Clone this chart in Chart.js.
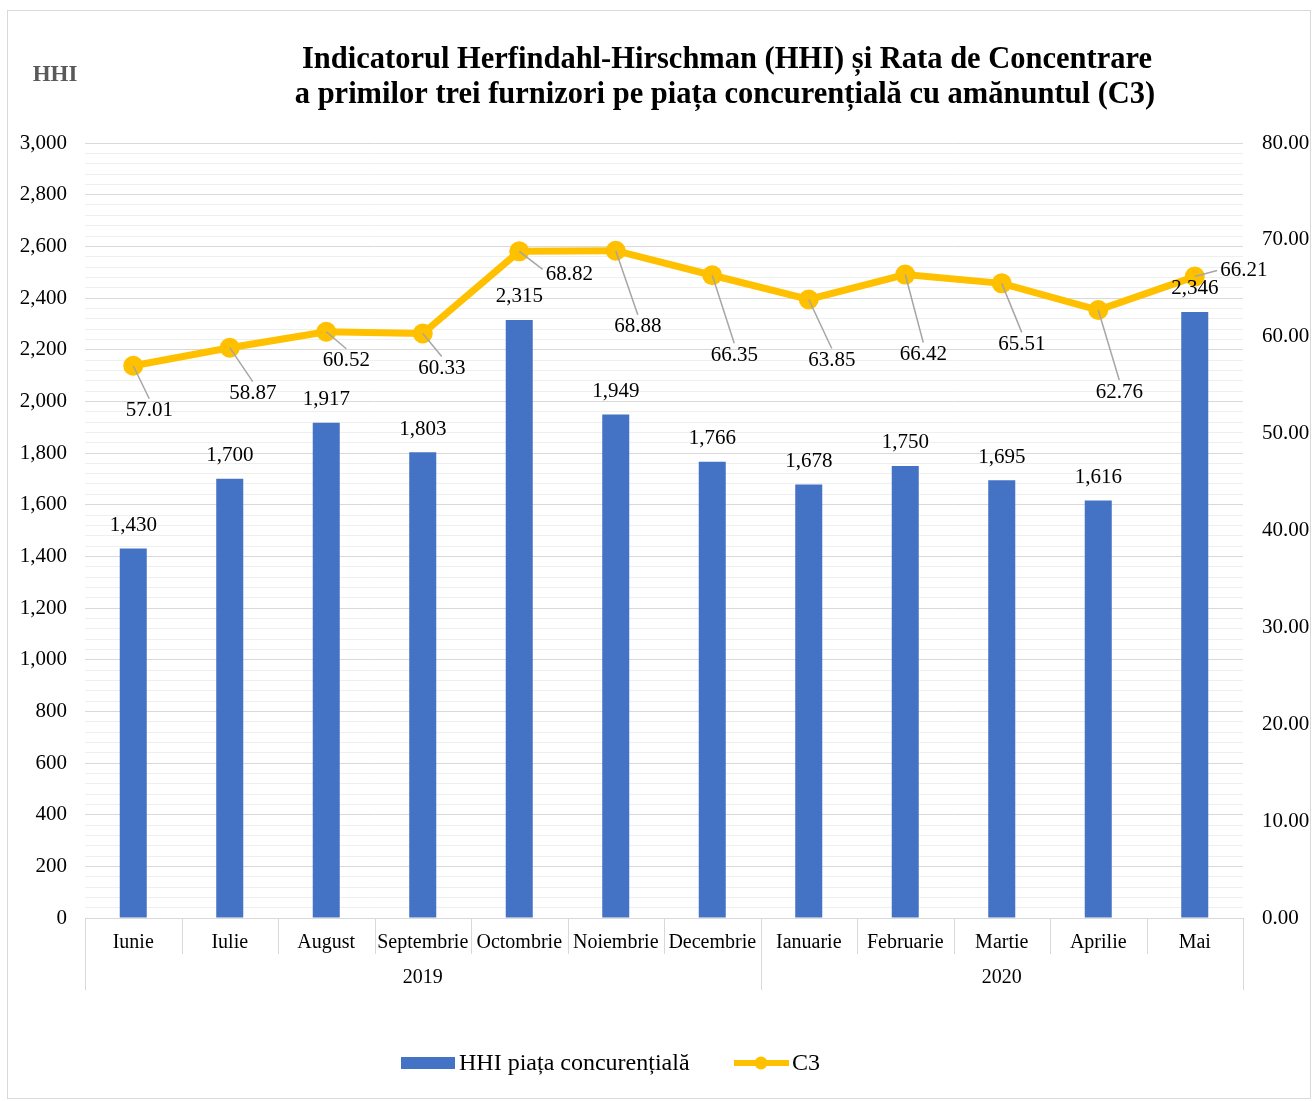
<!DOCTYPE html>
<html>
<head>
<meta charset="utf-8">
<script src="https://cdn.jsdelivr.net/npm/chart.js@4"></script>
<style>
  body { margin: 0; background: #fff; }
  #wrap { width: 1313px; height: 1101px; position: relative; }
</style>
</head>
<body>
<div id="wrap"><canvas id="chart"></canvas></div>
<script>
// Data
const months = ['Iunie', 'Iulie', 'August', 'Septembrie', 'Octombrie', 'Noiembrie', 'Decembrie',
                'Ianuarie', 'Februarie', 'Martie', 'Aprilie', 'Mai'];
const years = ['2019', '2020'];
const monthsPerYear = [7, 5];
const hhi = [1430, 1700, 1917, 1803, 2315, 1949, 1766, 1678, 1750, 1695, 1616, 2346];
const c3 = [57.01, 58.87, 60.52, 60.33, 68.82, 68.88, 66.35, 63.85, 66.42, 65.51, 62.76, 66.21];

// label placement for the C3 values (offset from point, px)
const c3LabelOffset = [[16, 45], [23, 46], [20, 29], [19, 35], [50, 23], [22, 76],
                       [22, 80], [23, 61], [18, 80], [20, 61], [21, 82], [49, -6]];

const SERIF = '"Liberation Serif", "Times New Roman", serif';
const BLUE = '#4472C4';
const GOLD = '#FFC000';

const decor = {
    id: 'decor',
    beforeDraw(chart) {
        const c = chart.ctx;
        c.save();
        c.fillStyle = '#fff';
        c.fillRect(0, 0, chart.width, chart.height);
        c.strokeStyle = '#d9d9d9';
        c.lineWidth = 1;
        c.strokeRect(7.5, 10.5, 1303, 1088);
        c.restore();
    },
    afterDraw(chart) {
        const c = chart.ctx;
        const area = chart.chartArea;
        c.save();
        // titles
        c.fillStyle = '#000';
        c.textAlign = 'center';
        c.textBaseline = 'middle';
        c.font = 'bold 30.5px ' + SERIF;
        c.fillText('Indicatorul Herfindahl-Hirschman (HHI) și Rata de Concentrare', 727, 60);
        c.fillText('a primilor trei furnizori pe piața concurențială cu amănuntul (C3)', 725, 95);
        c.fillStyle = '#595959';
        c.font = 'bold 23px ' + SERIF;
        c.fillText('HHI', 55, 75);

        // category separators and year row
        const w = (area.right - area.left) / months.length;
        c.strokeStyle = '#d9d9d9';
        c.lineWidth = 1;
        c.beginPath();
        for (let i = 0; i <= months.length; i++) {
            const px = Math.round(area.left + i * w) + 0.5;
            c.moveTo(px, area.bottom);
            c.lineTo(px, area.bottom + 36);
        }
        let idx = 0;
        const bounds = [0];
        monthsPerYear.forEach(n => { idx += n; bounds.push(idx); });
        bounds.forEach(b => {
            const px = Math.round(area.left + b * w) + 0.5;
            c.moveTo(px, area.bottom);
            c.lineTo(px, area.bottom + 72);
        });
        c.stroke();
        c.fillStyle = '#000';
        c.font = '20px ' + SERIF;
        years.forEach((y, i) => {
            const mid = area.left + (bounds[i] + bounds[i + 1]) / 2 * w;
            c.fillText(y, mid, area.bottom + 60);
        });

        // legend
        c.fillStyle = BLUE;
        c.fillRect(401, 1057, 54, 12);
        c.fillStyle = '#000';
        c.textAlign = 'left';
        c.font = '24px ' + SERIF;
        c.fillText('HHI piața concurențială', 459, 1064);
        c.strokeStyle = GOLD;
        c.lineWidth = 6;
        c.beginPath();
        c.moveTo(734, 1063);
        c.lineTo(789, 1063);
        c.stroke();
        c.fillStyle = GOLD;
        c.beginPath();
        c.arc(761, 1063, 6.5, 0, Math.PI * 2);
        c.fill();
        c.fillStyle = '#000';
        c.fillText('C3', 792, 1064);
        c.restore();
    },
    afterDatasetsDraw(chart) {
        const c = chart.ctx;
        c.save();
        c.font = '21px ' + SERIF;
        c.fillStyle = '#000';
        c.textAlign = 'center';
        c.textBaseline = 'middle';
        // bar labels
        chart.getDatasetMeta(1).data.forEach((bar, i) => {
            c.fillText(hhi[i].toLocaleString('en-US'), bar.x, bar.y - 23);
        });
        // C3 labels with leader lines
        chart.getDatasetMeta(0).data.forEach((pt, i) => {
            const [dx, dy] = c3LabelOffset[i];
            const lx = pt.x + dx, ly = pt.y + dy;
            const txt = c3[i].toFixed(2);
            const tw = c.measureText(txt).width;
            let ex, ey;
            if (Math.abs(dy) < 30 && dx > 40) { ex = lx - tw / 2 - 3; ey = ly - (dy > 0 ? 5 : 0); }
            else { ex = lx; ey = ly - 12; }
            c.strokeStyle = '#a6a6a6';
            c.lineWidth = 1.5;
            c.beginPath();
            c.moveTo(pt.x, pt.y);
            c.lineTo(ex, ey);
            c.stroke();
            c.fillStyle = '#000';
            c.fillText(txt, lx, ly);
        });
        c.restore();
    }
};

new Chart(document.getElementById('chart'), {
    data: {
        labels: months,
        datasets: [{
            type: 'line',
            label: 'C3',
            data: c3,
            yAxisID: 'y2',
            borderColor: GOLD,
            backgroundColor: GOLD,
            borderWidth: 7,
            pointRadius: 10,
            pointHoverRadius: 10,
            pointBackgroundColor: GOLD,
            pointBorderWidth: 0,
            tension: 0,
            order: 0
        }, {
            type: 'bar',
            label: 'HHI piața concurențială',
            data: hhi,
            yAxisID: 'y',
            backgroundColor: BLUE,
            barPercentage: 0.28,
            categoryPercentage: 1,
            order: 1
        }]
    },
    options: {
        responsive: true,
        maintainAspectRatio: false,
        animation: false,
        events: [],
        layout: { padding: { top: 143, bottom: 83, left: 0, right: 0 } },
        plugins: {
            legend: { display: false },
            tooltip: { enabled: false }
        },
        scales: {
            x: {
                offset: true,
                grid: { display: false, drawTicks: false },
                border: { color: '#d9d9d9' },
                ticks: { color: '#000', font: { family: SERIF, size: 20 }, padding: 13, maxRotation: 0 },
                afterFit(s) { s.height = 100; }
            },
            y: {
                position: 'left',
                min: 0,
                max: 3000,
                ticks: {
                    stepSize: 40,
                    autoSkip: false,
                    color: '#000',
                    padding: 18,
                    font: { family: SERIF, size: 21 },
                    callback: v => (v % 200 === 0 ? v.toLocaleString('en-US') : '')
                },
                grid: {
                    drawTicks: false,
                    color: ctx => (ctx.tick && ctx.tick.value % 200 === 0 ? '#d9d9d9' : '#efefef'),
                    lineWidth: 1
                },
                border: { display: false },
                afterFit(s) { s.width = 85; }
            },
            y2: {
                position: 'right',
                min: 0,
                max: 80,
                ticks: {
                    stepSize: 10,
                    color: '#000',
                    padding: 19,
                    font: { family: SERIF, size: 21 },
                    callback: v => v.toFixed(2)
                },
                grid: { drawOnChartArea: false, drawTicks: false },
                border: { display: false },
                afterFit(s) { s.width = 70; }
            }
        }
    },
    plugins: [decor]
});
</script>
</body>
</html>
